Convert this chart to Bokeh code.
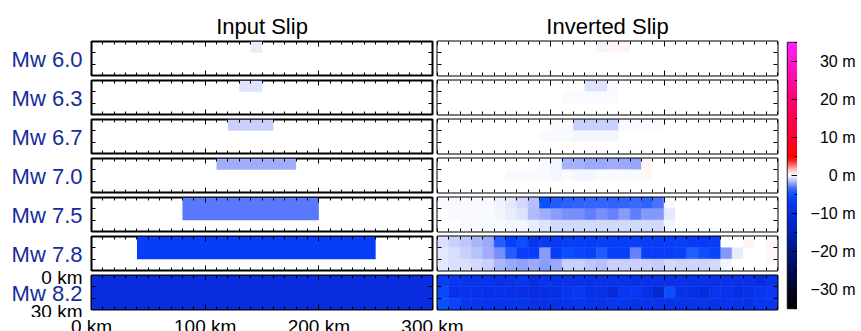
import numpy as np
from bokeh.plotting import figure
from bokeh.models import (Range1d, LinearAxis, FixedTicker, LinearColorMapper,
                          ColumnDataSource)
from bokeh.layouts import row, column
from bokeh.core.properties import value
from bokeh.embed import file_html
from bokeh.resources import INLINE

# ---------------- data ----------------
mw_labels = ["Mw 6.0", "Mw 6.3", "Mw 6.7", "Mw 7.0", "Mw 7.5", "Mw 7.8", "Mw 8.2"]
column_titles = ["Input Slip", "Inverted Slip"]

# input (uniform) slip patches
input_start_km = [140, 130, 120, 110, 80, 40, 0]
input_end_km = [150, 150, 160, 180, 200, 250, 300]
input_depth_km = [10, 10, 10, 10, 20, 20, 30]
input_slip_m = [-0.42, -0.56, -1.0, -1.8, -3.0, -6.6, -10.0]

# inverted slip: 3 depth rows (0-10, 10-20, 20-30 km) x 30 along-strike cells (10 km)
strike_km = [5, 15, 25, 35, 45, 55, 65, 75, 85, 95, 105, 115, 125, 135, 145,
             155, 165, 175, 185, 195, 205, 215, 225, 235, 245, 255, 265, 275, 285, 295]
depth_km = [5, 15, 25]

inv_60 = [
    [0, 0, 0, 0, 0, 0, 0, 0, 0, 0, 0, 0, 0, 0, -0.2, 0.25, 0.25, -0.03, -0.03, -0.03, 0, 0, 0, 0, 0, 0, 0, 0, 0, 0],
    [0, 0, 0, 0, 0, 0, 0, 0, 0, 0, 0, 0, 0, 0, -0.03, -0.03, -0.03, -0.03, -0.03, -0.03, 0, 0, 0, 0, 0, 0, 0, 0, 0, 0],
    [0, 0, 0, 0, 0, 0, 0, 0, 0, 0, 0, 0, 0, 0, 0, 0, 0, 0, 0, 0, 0, 0, 0, 0, 0, 0, 0, 0, 0, 0],
]
inv_63 = [
    [0, 0, 0, 0, 0, 0, 0, 0, 0, 0, -0.03, -0.03, -0.03, -0.6, -0.6, -0.12, 0, 0, 0, 0, 0, 0, 0, 0, 0, 0, 0, 0, 0, 0],
    [0, 0, 0, 0, 0, 0, 0, 0, 0, 0, 0, -0.06, -0.06, -0.06, -0.06, -0.06, -0.03, -0.03, -0.03, 0, 0, -0.03, 0, 0, 0, 0, 0, 0, 0, 0],
    [0, 0, 0, 0, 0, 0, 0, 0, 0, 0, 0, 0, -0.02, -0.02, -0.02, 0, 0, 0, 0, 0, 0, 0, 0, 0, 0, 0, 0, 0, 0, 0],
]
inv_67 = [
    [0, 0, 0, 0, 0, 0, 0, 0, 0, -0.03, -0.05, -0.1, -1.0, -1.0, -1.0, -1.0, -0.05, -0.05, -0.05, -0.05, 0, -0.03, 0, 0, 0, 0, 0, 0, 0, 0],
    [0, 0, 0, 0, 0, 0, 0, 0, 0, -0.05, -0.05, -0.1, -0.2, -0.2, -0.15, -0.15, -0.04, -0.04, -0.04, -0.04, 0, 0, 0, 0, 0, 0, 0, 0, 0, 0],
    [0, 0, 0, 0, 0, 0, 0, 0, 0, 0, -0.03, -0.03, -0.03, -0.03, -0.03, -0.03, 0, 0, 0, 0, 0, 0, 0, 0, 0, 0, 0, 0, 0, 0],
]
inv_70 = [
    [0, 0, 0, 0, 0, 0, 0, -0.03, -0.03, -0.05, -0.2, -1.7, -1.7, -1.9, -1.85, -1.8, -1.9, -2.0, 0.15, -0.03, -0.02, -0.02, -0.02, 0, 0, 0, 0, 0, 0, 0],
    [0, 0, 0, 0, 0, 0, -0.05, -0.05, -0.05, -0.08, -0.15, -0.12, -0.15, -0.18, -0.08, -0.12, -0.12, -0.08, 0.15, -0.03, 0, 0, 0, 0, 0, 0, 0, 0, 0, 0],
    [0, 0, 0, 0, 0, 0, 0, 0, -0.03, -0.03, -0.03, -0.03, -0.03, -0.03, -0.03, -0.03, -0.03, -0.03, -0.03, 0, 0, 0, 0, 0, 0, 0, 0, 0, 0, 0],
]
inv_75 = [
    [-0.05, -0.06, -0.07, -0.1, -0.12, -0.25, -0.45, -0.8, -1.4, -5.0, -4.2, -4.0, -3.9, -3.8, -3.8, -3.9, -3.8, -3.6, -3.9, -3.3,
     -0.05, -0.03, -0.03, -0.03, -0.02, -0.02, -0.02, -0.02, -0.02, -0.02],
    [-0.04, -0.05, -0.06, -0.08, -0.1, -0.18, -0.35, -0.6, -1.45, -1.8, -2.2, -2.5, -2.5, -2.9, -2.5, -2.75, -2.2, -2.85, -2.25, -2.25,
     -0.5, -0.03, -0.02, -0.02, -0.02, -0.02, -0.02, -0.02, -0.02, -0.02],
    [-0.03, -0.04, -0.05, -0.06, -0.08, -0.1, -0.15, -0.2, -0.35, -0.6, -0.75, -0.75, -0.8, -0.8, -0.75, -0.8, -0.8, -0.75, -0.8, -0.75,
     -0.2, -0.02, -0.02, -0.02, -0.02, -0.02, -0.02, -0.02, -0.02, -0.02],
]
inv_78 = [
    [-0.65, -0.95, -1.15, -1.55, -1.9, -4.1, -6.5, -5.2, -8.0, -6.8, -6.8, -6.6, -6.6, -6.6, -6.5, -6.6, -6.6, -6.5, -6.6, -6.6,
     -6.6, -6.5, -6.8, -7.0, -6.6, -0.02, 0.0, 0.25, 0.02, 0.3],
    [-0.5, -0.65, -0.95, -1.25, -1.8, -2.5, -4.2, -6.5, -6.5, -2.2, -6.6, -5.2, -5.8, -6.3, -4.3, -6.5, -6.5, -2.8, -6.5, -6.5,
     -6.5, -6.3, -4.1, -5.2, -6.2, -2.3, -0.35, 0.02, -0.02, 0.15],
    [-0.5, -0.65, -0.7, -0.75, -1.0, -1.6, -1.9, -2.1, -1.9, -2.2, -1.9, -1.0, -1.0, -1.2, -1.4, -1.0, -1.0, -1.0, -1.0, -1.05,
     -0.75, -0.85, -0.85, -0.85, -0.75, -0.15, -0.03, 0.0, 0.0, 0.05],
]
inv_82 = [
    [-6.5, -7.5, -8.0, -8.2, -8.0, -8.8, -8.5, -7.2, -9.8, -8.0, -8.6, -8.6, -8.4, -8.8, -8.6, -8.5, -8.6, -8.8, -8.5, -8.4,
     -8.8, -8.6, -8.4, -8.6, -8.8, -8.5, -8.6, -8.8, -9.8, -8.6],
    [-5.6, -8.4, -8.3, -8.5, -8.6, -8.5, -9.0, -9.2, -9.4, -9.2, -8.8, -7.6, -6.8, -8.6, -8.4, -10.5, -7.2, -7.4, -8.8, -11.5,
     -5.2, -8.4, -8.8, -10.2, -8.0, -8.2, -9.4, -8.6, -7.6, -7.4],
    [-5.0, -6.0, -7.6, -7.8, -8.0, -8.2, -8.0, -7.6, -8.6, -8.8, -8.4, -8.2, -8.0, -8.2, -8.6, -7.8, -8.0, -8.6, -8.2, -8.0,
     -8.4, -8.6, -8.2, -8.0, -8.4, -8.0, -8.2, -8.4, -7.8, -7.6],
]
inverted_slip = [inv_60, inv_63, inv_67, inv_70, inv_75, inv_78, inv_82]

x_ticks_km = [0, 100, 200, 300]
x_tick_labels = ["0 km", "100 km", "200 km", "300 km"]
depth_ticks_km = [0, 30]
depth_tick_labels = ["0 km", "30 km"]
cbar_ticks_m = [-30, -20, -10, 0, 10, 20, 30]
cbar_tick_labels = ["\u221230 m", "\u221220 m", "\u221210 m", "0 m", "10 m", "20 m", "30 m"]

# ---------------- style ----------------
FONT = "Liberation Sans"
MW_COLOR = "#142c9c"
SLIP_LOW, SLIP_HIGH = -35, 35

cmap_anchors = [
    (-35, (0, 0, 0)), (-30, (0, 0, 40)), (-25, (0, 8, 85)), (-20, (0, 20, 130)),
    (-15, (0, 34, 180)), (-10, (8, 44, 222)), (-7, (8, 56, 245)), (-5, (10, 80, 255)),
    (-4, (40, 95, 255)), (-3, (90, 120, 251)), (-2, (150, 165, 250)), (-1, (200, 208, 251)),
    (0, (255, 255, 255)), (1, (255, 215, 215)), (2, (255, 160, 160)), (3, (255, 90, 90)),
    (4, (255, 30, 30)), (5, (255, 0, 0)), (10, (255, 0, 50)), (20, (255, 0, 110)),
    (30, (255, 20, 210)), (35, (255, 32, 255)),
]
_av = np.array([a[0] for a in cmap_anchors], dtype=float)
_ac = np.array([a[1] for a in cmap_anchors], dtype=float)
_pv = np.linspace(SLIP_LOW, SLIP_HIGH, 701)
palette = []
for v in _pv:
    r, g, b = (int(round(np.interp(v, _av, _ac[:, k]))) for k in range(3))
    palette.append("#%02x%02x%02x" % (r, g, b))
mapper = LinearColorMapper(palette=palette, low=SLIP_LOW, high=SLIP_HIGH)

# ---------------- geometry (pixels) ----------------
FRAME_H = 34          # panel height
ROW_PITCH = 39        # panel-to-panel distance
FIRST_TOP = 41        # top of first panel
LABEL_W = 85          # width of the left label column
PANEL_H_TOTAL = 317   # height of label column / panel column
STRIP_H = 14
LEFT_FRAME_X = 91
LEFT_FRAME_W = 341
RIGHT_FRAME_W = 340


def tick_axis(ticks, length):
    """Axis drawing only inward tick marks (no labels, no line)."""
    return LinearAxis(ticker=FixedTicker(ticks=[], minor_ticks=ticks),
                      major_tick_in=0, major_tick_out=0,
                      minor_tick_in=length, minor_tick_out=0,
                      axis_line_color=None, minor_tick_line_color="black",
                      minor_tick_line_width=1)


def add_panel_axes(p):
    minor_x = list(range(0, 301, 10))
    for loc in ("below", "above"):
        p.add_layout(tick_axis(minor_x, 3), loc)
        p.add_layout(tick_axis([100, 200], 5), loc)
    for loc in ("left", "right"):
        p.add_layout(tick_axis([10, 20], 4), loc)


def make_panel(frame_w, mb_left, mb_top, mb_right, mb_bottom):
    p = figure(frame_width=frame_w, frame_height=FRAME_H,
               x_range=Range1d(0, 300), y_range=Range1d(30, 0),
               x_axis_type=None, y_axis_type=None,
               min_border_left=mb_left, min_border_right=mb_right,
               min_border_top=mb_top, min_border_bottom=mb_bottom,
               toolbar_location=None, output_backend="svg")
    p.outline_line_color = "black"
    p.outline_line_width = 2
    p.background_fill_color = "white"
    p.border_fill_color = "white"
    return p


# ---- left label column (Mw labels + depth labels), one depth scale per row ----
lab = figure(width=LABEL_W, height=PANEL_H_TOTAL, x_range=Range1d(0, LABEL_W),
             y_range=Range1d(PANEL_H_TOTAL, 0), x_axis_type=None, y_axis_type=None,
             min_border=0, min_border_left=0, min_border_right=0,
             min_border_top=0, min_border_bottom=0,
             toolbar_location=None, output_backend="svg")
lab.outline_line_color = None
lab.background_fill_color = None
lab.border_fill_color = None

panel_rows = []
n = len(mw_labels)
for i in range(n):
    top = FIRST_TOP if i == 0 else 3
    bottom = (PANEL_H_TOTAL - (FIRST_TOP + ROW_PITCH * i + FRAME_H)) if i == n - 1 else 2
    frame_top_px = FIRST_TOP + ROW_PITCH * i
    # depth scale of this row inside the label column
    km_per_px = 30.0 / FRAME_H
    rng_name = "row%d" % i
    lab.extra_y_ranges[rng_name] = Range1d((PANEL_H_TOTAL - frame_top_px) * km_per_px,
                                           (0 - frame_top_px) * km_per_px)
    lab.text(x=[82], y=[15], text=[mw_labels[i]], y_range_name=rng_name,
             text_align="right", text_baseline="middle", y_offset=1,
             text_font=value(FONT), text_font_size="22px", text_color=MW_COLOR)
    if i == n - 1:
        lab.text(x=[82, 82], y=depth_ticks_km, text=depth_tick_labels, y_range_name=rng_name,
                 text_align="right", text_baseline="middle", y_offset=2,
                 text_font=value(FONT), text_font_size="19px", text_color="black")

    # ---- input panel ----
    pl = make_panel(LEFT_FRAME_W, LEFT_FRAME_X - LABEL_W, top, 2, bottom)
    src_in = ColumnDataSource(dict(left=[input_start_km[i]], right=[input_end_km[i]],
                                   top=[0], bottom=[input_depth_km[i]],
                                   slip=[input_slip_m[i]]))
    pl.quad(left="left", right="right", top="top", bottom="bottom", source=src_in,
            fill_color={"field": "slip", "transform": mapper}, line_color=None)
    add_panel_axes(pl)

    # ---- inverted panel ----
    pr = make_panel(RIGHT_FRAME_W, 3, top, 2, bottom)
    xs, ys, vs = [], [], []
    for d, drow in enumerate(inverted_slip[i]):
        for c, val in enumerate(drow):
            xs.append(strike_km[c])
            ys.append(depth_km[d])
            vs.append(val)
    src_inv = ColumnDataSource(dict(x=xs, y=ys, slip=vs))
    pr.rect(x="x", y="y", width=10, height=10, source=src_inv,
            fill_color={"field": "slip", "transform": mapper},
            line_color={"field": "slip", "transform": mapper}, line_width=0.6)
    add_panel_axes(pr)

    if i == 0:
        for p, t in ((pl, column_titles[0]), (pr, column_titles[1])):
            p.title.text = t
            p.title.align = "center"
            p.title.text_font = FONT
            p.title.text_font_size = "22px"
            p.title.text_font_style = "normal"
            p.title.text_color = "black"
            p.title.standoff = 5
    panel_rows.append(row(pl, pr))

panel_col = column(*panel_rows)

# ---- along-strike tick labels strip (same km scale as the input panels) ----
strip_w = LABEL_W + (LEFT_FRAME_X - LABEL_W) + LEFT_FRAME_W + 2 + 3 + RIGHT_FRAME_W + 2
k_px_per_km = LEFT_FRAME_W / 300.0
strip = figure(width=strip_w, height=STRIP_H,
               x_range=Range1d(-LEFT_FRAME_X / k_px_per_km, (strip_w - LEFT_FRAME_X) / k_px_per_km),
               y_range=Range1d(0, STRIP_H), x_axis_type=None, y_axis_type=None,
               min_border=0, min_border_left=0, min_border_right=0,
               min_border_top=0, min_border_bottom=0,
               toolbar_location=None, output_backend="svg")
strip.outline_line_color = None
strip.text(x=x_ticks_km, y=[5.3] * len(x_ticks_km), text=x_tick_labels,
           text_align="center", text_baseline="middle",
           text_font=value(FONT), text_font_size="19px", text_color="black")

# ---- colour bar ----
cb_range = Range1d(SLIP_LOW, SLIP_HIGH)
cb = figure(frame_width=10, frame_height=266, x_range=Range1d(0, 1), y_range=cb_range,
            x_axis_type=None, y_axis_type=None,
            min_border_left=8, min_border_right=0, min_border_top=42, min_border_bottom=23,
            toolbar_location=None, output_backend="svg")
grad = np.linspace(SLIP_LOW, SLIP_HIGH, 701).reshape(-1, 1)
cb.image(image=[grad], x=0, y=SLIP_LOW, dw=1, dh=SLIP_HIGH - SLIP_LOW, color_mapper=mapper)
cb.outline_line_color = "#222222"
cb.outline_line_width = 1.5
cb.add_layout(tick_axis(list(range(-35, 36, 5)), 3), "right")
cb.add_layout(tick_axis(cbar_ticks_m, 6), "right")

# colour-bar labels: left axis of a thin frame, so labels are right-aligned
cbl = figure(frame_width=2, frame_height=266, x_range=Range1d(0, 1), y_range=cb_range,
             x_axis_type=None, y_axis_type=None,
             min_border_left=62, min_border_right=0, min_border_top=42, min_border_bottom=23,
             toolbar_location=None, output_backend="svg")
cbl.outline_line_color = None
cb_lab_ax = LinearAxis(ticker=FixedTicker(ticks=cbar_ticks_m),
                       major_label_overrides={t: s for t, s in zip(cbar_ticks_m, cbar_tick_labels)},
                       major_tick_in=0, major_tick_out=0, minor_tick_in=0, minor_tick_out=0,
                       axis_line_color=None, major_label_standoff=4,
                       major_label_text_font=FONT, major_label_text_font_size="16px",
                       major_label_text_color="black")
cbl.add_layout(cb_lab_ax, "left")

layout = row(column(row(lab, panel_col), strip), cb, cbl)

open("out.html", "w").write(file_html(layout, INLINE))
